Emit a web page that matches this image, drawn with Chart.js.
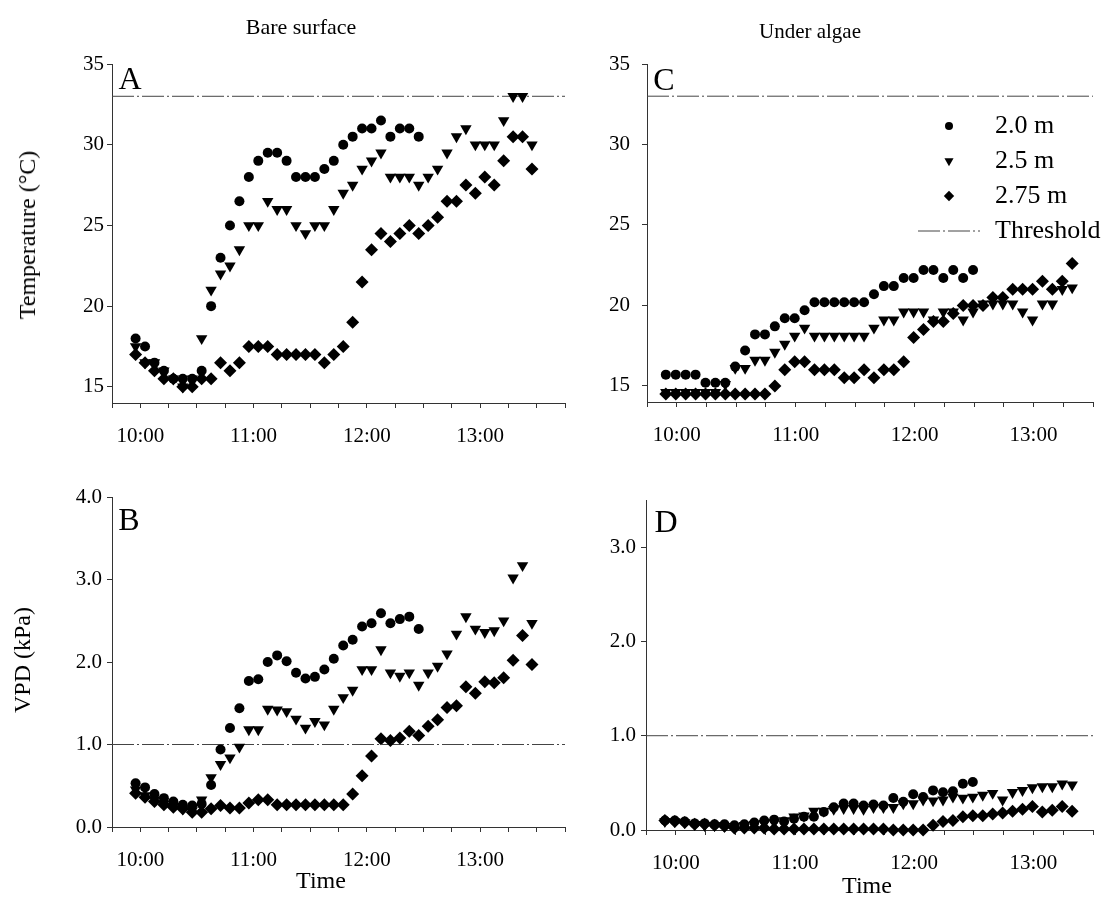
<!DOCTYPE html>
<html>
<head>
<meta charset="utf-8">
<script src="https://cdn.jsdelivr.net/npm/chart.js@4.4.0/dist/chart.umd.min.js"></script>
<style>
  body { margin: 0; background: #fff; }
  #page { position: relative; width: 1109px; height: 918px; overflow: hidden;
          font-family: "Liberation Serif", "Times New Roman", serif; color: #000; }
  #page canvas { position: absolute; left: 0; top: 0; }
  .txt { position: absolute; white-space: nowrap; line-height: 1; transform: translate(-50%, -50%); }
  .vert { transform: translate(-50%, -50%) rotate(-90deg); }
  .big { font-size: 32px; }
</style>
</head>
<body>
<div id="page">
  <canvas id="panelA" width="1109" height="918"></canvas>
  <canvas id="panelB" width="1109" height="918"></canvas>
  <canvas id="panelC" width="1109" height="918"></canvas>
  <canvas id="panelD" width="1109" height="918"></canvas>

  <div class="txt" style="left:301px;top:27px;font-size:22px">Bare surface</div>
  <div class="txt" style="left:810px;top:31px;font-size:21px">Under algae</div>
  <div class="txt vert" style="left:27px;top:235px;font-size:24px">Temperature (°C)</div>
  <div class="txt vert" style="left:22px;top:660px;font-size:24px">VPD (kPa)</div>
  <div class="txt" style="left:321px;top:880px;font-size:24px">Time</div>
  <div class="txt" style="left:867px;top:885px;font-size:24px">Time</div>
  <div class="txt big" style="left:130px;top:78px">A</div>
  <div class="txt big" style="left:129px;top:519px">B</div>
  <div class="txt big" style="left:664px;top:79px">C</div>
  <div class="txt big" style="left:666px;top:521px">D</div>
</div>

<script>
// sampling times (h:mm:ss)
var timesBare = ['9:57:30', '10:02:30', '10:07:30', '10:12:30', '10:17:30', '10:22:30', '10:27:30', '10:32:30',
  '10:37:30', '10:42:30', '10:47:30', '10:52:30', '10:57:30', '11:02:30', '11:07:30', '11:12:30', '11:17:30',
  '11:22:30', '11:27:30', '11:32:30', '11:37:30', '11:42:30', '11:47:30', '11:52:30', '11:57:30', '12:02:30',
  '12:07:30', '12:12:30', '12:17:30', '12:22:30', '12:27:30', '12:32:30', '12:37:30', '12:42:30', '12:47:30',
  '12:52:30', '12:57:30', '13:02:30', '13:07:30', '13:12:30', '13:17:30', '13:22:30', '13:27:30'];
var timesAlgae = ['9:54:30', '9:59:30', '10:04:30', '10:09:30', '10:14:30', '10:19:30', '10:24:30', '10:29:30',
  '10:34:30', '10:39:30', '10:44:30', '10:49:30', '10:54:30', '10:59:30', '11:04:30', '11:09:30', '11:14:30',
  '11:19:30', '11:24:30', '11:29:30', '11:34:30', '11:39:30', '11:44:30', '11:49:30', '11:54:30', '11:59:30',
  '12:04:30', '12:09:30', '12:14:30', '12:19:30', '12:24:30', '12:29:30', '12:34:30', '12:39:30', '12:44:30',
  '12:49:30', '12:54:30', '12:59:30', '13:04:30', '13:09:30', '13:14:30', '13:19:30'];

var depthLabels = ['2.0 m', '2.5 m', '2.75 m'];
var thresholdLabel = 'Threshold';
var tempThreshold = 33;
var vpdThreshold = 1.0;

// A: temperature, bare surface
var tempBare20 = [18, 17.5, 16.5, 16, 15.5, 15.5, 15.5, 16, 20, 23, 25, 26.5, 28, 29, 29.5, 29.5, 29, 28, 28, 28,
  28.5, 29, 30, 30.5, 31, 31, 31.5, 30.5, 31, 31, 30.5, null, null, null, null, null, null, null, null, null, null, null, null];
var tempBare25 = [17.5, 16.5, 16.5, 16, 15.5, 15, 15.5, 18, 21, 22, 22.5, 23.5, 25, 25, 26.5, 26, 26, 25, 24.5, 25,
  25, 26, 27, 27.5, 28.5, 29, 29.5, 28, 28, 28, 27.5, 28, 28.5, 29.5, 30.5, 31, 30, 30, 30, 31.5, 33, 33, 30];
var tempBare275 = [17, 16.5, 16, 15.5, 15.5, 15, 15, 15.5, 15.5, 16.5, 16, 16.5, 17.5, 17.5, 17.5, 17, 17, 17, 17, 17,
  16.5, 17, 17.5, 19, 21.5, 23.5, 24.5, 24, 24.5, 25, 24.5, 25, 25.5, 26.5, 26.5, 27.5, 27, 28, 27.5, 29, 30.5, 30.5, 28.5];

// B: VPD, bare surface
var vpdBare20 = [0.53, 0.48, 0.4, 0.35, 0.31, 0.27, 0.26, 0.28, 0.51, 0.94, 1.2, 1.44, 1.77, 1.79, 2.0, 2.08, 2.01,
  1.87, 1.8, 1.82, 1.91, 2.04, 2.2, 2.27, 2.43, 2.47, 2.59, 2.47, 2.52, 2.55, 2.4,
  null, null, null, null, null, null, null, null, null, null, null, null];
var vpdBare25 = [0.45, 0.38, 0.33, 0.28, 0.25, 0.22, 0.2, 0.33, 0.6, 0.76, 0.84, 0.97, 1.18, 1.18, 1.43, 1.42, 1.4,
  1.31, 1.2, 1.28, 1.24, 1.43, 1.57, 1.66, 1.91, 1.91, 2.15, 1.87, 1.83, 1.87, 1.72, 1.87, 1.95, 2.1, 2.34, 2.55,
  2.4, 2.36, 2.38, 2.5, 3.02, 3.17, 2.47];
var vpdBare275 = [0.41, 0.36, 0.31, 0.27, 0.24, 0.22, 0.18, 0.18, 0.22, 0.26, 0.23, 0.23, 0.29, 0.33, 0.33, 0.27,
  0.27, 0.27, 0.27, 0.27, 0.27, 0.27, 0.27, 0.4, 0.62, 0.86, 1.07, 1.05, 1.08, 1.16, 1.11, 1.22, 1.3, 1.45, 1.47,
  1.7, 1.62, 1.76, 1.75, 1.81, 2.02, 2.32, 1.97];

// C: temperature, under algae
var tempAlgae20 = [15.7, 15.7, 15.7, 15.7, 15.2, 15.2, 15.2, 16.2, 17.2, 18.2, 18.2, 18.7, 19.2, 19.2, 19.7, 20.2,
  20.2, 20.2, 20.2, 20.2, 20.2, 20.7, 21.2, 21.2, 21.7, 21.7, 22.2, 22.2, 21.7, 22.2, 21.7, 22.2,
  null, null, null, null, null, null, null, null, null, null];
var tempAlgae25 = [14.6, 14.6, 14.6, 14.6, 14.6, 14.6, 15.1, 16.1, 16.1, 16.6, 16.6, 17.1, 17.6, 18.1, 18.6, 18.1,
  18.1, 18.1, 18.1, 18.1, 18.1, 18.6, 19.1, 19.1, 19.6, 19.6, 19.6, 19.1, 19.6, 19.6, 19.1, 19.6, 20.1, 20.1, 20.1,
  20.1, 19.6, 19.1, 20.1, 20.1, 21.0, 21.1];
var tempAlgae275 = [14.5, 14.5, 14.5, 14.5, 14.5, 14.5, 14.5, 14.5, 14.5, 14.5, 14.5, 15, 16, 16.5, 16.5, 16, 16, 16,
  15.5, 15.5, 16, 15.5, 16, 16, 16.5, 18, 18.5, 19, 19, 19.5, 20, 20, 20, 20.5, 20.5, 21, 21, 21, 21.5, 21, 21.5, 22.6];

// D: VPD, under algae
var vpdAlgae20 = [0.1, 0.1, 0.09, 0.07, 0.07, 0.06, 0.06, 0.05, 0.06, 0.08, 0.1, 0.11, 0.09, 0.12, 0.14, 0.14, 0.19,
  0.24, 0.28, 0.28, 0.26, 0.27, 0.26, 0.34, 0.3, 0.38, 0.35, 0.42, 0.4, 0.41, 0.49, 0.51,
  null, null, null, null, null, null, null, null, null, null];
var vpdAlgae25 = [0.09, 0.09, 0.08, 0.06, 0.05, 0.05, 0.04, 0.04, 0.05, 0.06, 0.07, 0.08, 0.1, 0.14, 0.15, 0.2, 0.2,
  0.22, 0.23, 0.23, 0.22, 0.24, 0.24, 0.24, 0.28, 0.28, 0.32, 0.31, 0.32, 0.35, 0.34, 0.35, 0.37, 0.39, 0.32, 0.4,
  0.42, 0.45, 0.46, 0.46, 0.49, 0.48];
var vpdAlgae275 = [0.1, 0.09, 0.08, 0.06, 0.06, 0.05, 0.04, 0.02, 0.02, 0.02, 0.02, 0.01, 0.01, 0.01, 0.01, 0.01,
  0.01, 0.01, 0.01, 0.01, 0.01, 0.01, 0.01, 0.0, 0.0, 0.0, 0.0, 0.05, 0.09, 0.1, 0.14, 0.15, 0.15, 0.17, 0.18, 0.2,
  0.22, 0.25, 0.19, 0.21, 0.25, 0.2];

// axis ticks
var xTicksBare = ['9:45', '10:00', '10:15', '10:30', '10:45', '11:00', '11:15', '11:30', '11:45', '12:00', '12:15',
  '12:30', '12:45', '13:00', '13:15', '13:30', '13:45'];
var xTicksAlgae = ['9:45', '10:00', '10:15', '10:30', '10:45', '11:00', '11:15', '11:30', '11:45', '12:00', '12:15',
  '12:30', '12:45', '13:00', '13:15', '13:30'];
var tempTicks = [15, 20, 25, 30, 35];
var vpdTicksBare = [0, 1, 2, 3, 4];
var vpdTicksAlgae = [0, 1, 2, 3];

Chart.defaults.font.family = "'Liberation Serif', 'Times New Roman', serif";
Chart.defaults.color = '#000';

var PAGE_W = 1109, PAGE_H = 918;
var AXIS_COLOR = '#333';

function toMinutes(t) {
  var p = t.split(':').map(Number);
  return p[0] * 60 + p[1] + (p[2] || 0) / 60;
}

function hhmm(m) {
  return Math.floor(m / 60) + ':00';
}

function points(times, values) {
  var out = [];
  values.forEach(function(v, i) {
    if (v !== null) out.push({ x: toMinutes(times[i]), y: v });
  });
  return out;
}

// legend drawn inside the plot area of panel C
var insideLegend = {
  id: 'insideLegend',
  afterDatasetsDraw: function(chart, args, opts) {
    if (!opts.show) return;
    var ctx = chart.ctx;
    ctx.save();
    ctx.font = opts.fontSize + 'px ' + Chart.defaults.font.family;
    ctx.fillStyle = '#000';
    ctx.strokeStyle = '#000';
    ctx.textBaseline = 'middle';
    chart.data.datasets.forEach(function(ds, i) {
      var y = opts.top + i * opts.rowGap;
      if (ds.showLine) {
        ctx.save();
        ctx.strokeStyle = ds.borderColor;
        ctx.lineWidth = ds.borderWidth;
        ctx.setLineDash(ds.borderDash);
        ctx.beginPath();
        ctx.moveTo(opts.lineFrom, y);
        ctx.lineTo(opts.lineTo, y);
        ctx.stroke();
        ctx.restore();
      } else {
        Chart.helpers.drawPoint(ctx, {
          pointStyle: ds.pointStyle, rotation: ds.rotation,
          radius: ds.pointRadius * 0.8, borderWidth: 0
        }, opts.markerX, y);
      }
      ctx.fillText(ds.label, opts.textX, y);
    });
    ctx.restore();
  }
};

function markerSet(label, times, values, style, rotation, radius) {
  return {
    label: label,
    data: points(times, values),
    pointStyle: style,
    rotation: rotation,
    pointRadius: radius,
    pointBackgroundColor: '#000',
    pointBorderColor: '#000',
    pointBorderWidth: 0,
    showLine: false,
    clip: false
  };
}

function buildPanel(id, cfg) {
  var YW = 60, XH = 50;
  var a = cfg.area;
  var xTickVals = cfg.xTicks.map(toMinutes);
  var xMin = xTickVals[0], xMax = xTickVals[xTickVals.length - 1];

  var datasets = [
    markerSet(depthLabels[0], cfg.times, cfg.s1, 'circle', 0, 5),
    markerSet(depthLabels[1], cfg.times, cfg.s2, 'triangle', 180, 6.6),
    markerSet(depthLabels[2], cfg.times, cfg.s3, 'rectRot', 0, 6.5),
    {
      type: 'line',
      label: thresholdLabel,
      data: [{ x: xMin, y: cfg.threshold }, { x: xMax, y: cfg.threshold }],
      borderColor: '#444',
      borderWidth: 1,
      borderDash: [22, 3, 2, 3],
      pointRadius: 0,
      showLine: true,
      clip: false
    }
  ];

  new Chart(document.getElementById(id), {
    type: 'scatter',
    data: { datasets: datasets },
    options: {
      responsive: false,
      animation: false,
      events: [],
      layout: {
        padding: { left: a.l - YW, top: a.t, right: PAGE_W - a.r, bottom: PAGE_H - a.b - XH }
      },
      plugins: {
        legend: { display: false },
        tooltip: { enabled: false },
        insideLegend: cfg.legend || { show: false }
      },
      scales: {
        x: {
          type: 'linear',
          min: xMin,
          max: xMax,
          afterBuildTicks: function(s) { s.ticks = xTickVals.map(function(v) { return { value: v }; }); },
          afterFit: function(s) { s.height = XH; },
          ticks: {
            autoSkip: false,
            maxRotation: 0,
            padding: 16,
            font: { size: 21 },
            callback: function(v) { return v % 60 === 0 ? hhmm(v) : ''; }
          },
          grid: { drawOnChartArea: false, drawTicks: true, tickLength: 5, color: AXIS_COLOR },
          border: { color: AXIS_COLOR }
        },
        y: {
          min: cfg.yMin,
          max: cfg.yMax,
          afterBuildTicks: function(s) { s.ticks = cfg.yTicks.map(function(v) { return { value: v }; }); },
          afterFit: function(s) { s.width = YW; },
          ticks: {
            padding: cfg.labelGap,
            font: { size: 21 },
            callback: function(v) { return cfg.decimals ? v.toFixed(1) : String(v); }
          },
          grid: { drawOnChartArea: false, drawTicks: true, tickLength: 5, color: AXIS_COLOR },
          border: { color: AXIS_COLOR }
        }
      }
    },
    plugins: [insideLegend]
  });
}

buildPanel('panelA', {
  area: { l: 112, t: 64, r: 565, b: 403 },
  times: timesBare, s1: tempBare20, s2: tempBare25, s3: tempBare275,
  threshold: tempThreshold, xTicks: xTicksBare,
  yMin: 14, yMax: 35, yTicks: tempTicks, decimals: false, labelGap: 3
});

buildPanel('panelB', {
  area: { l: 112, t: 497, r: 565, b: 827 },
  times: timesBare, s1: vpdBare20, s2: vpdBare25, s3: vpdBare275,
  threshold: vpdThreshold, xTicks: xTicksBare,
  yMin: 0, yMax: 4, yTicks: vpdTicksBare, decimals: true, labelGap: 5
});

buildPanel('panelC', {
  area: { l: 647, t: 64, r: 1104, b: 402 },
  times: timesAlgae, s1: tempAlgae20, s2: tempAlgae25, s3: tempAlgae275,
  threshold: tempThreshold, xTicks: xTicksAlgae,
  yMin: 14, yMax: 35, yTicks: tempTicks, decimals: false, labelGap: 12,
  legend: { show: true, top: 126, rowGap: 35, markerX: 949, textX: 995, lineFrom: 918, lineTo: 980, fontSize: 26 }
});

buildPanel('panelD', {
  area: { l: 646, t: 500, r: 1097, b: 830 },
  times: timesAlgae, s1: vpdAlgae20, s2: vpdAlgae25, s3: vpdAlgae275,
  threshold: vpdThreshold, xTicks: xTicksAlgae,
  yMin: 0, yMax: 3.5, yTicks: vpdTicksAlgae, decimals: true, labelGap: 5
});
</script>
</body>
</html>
